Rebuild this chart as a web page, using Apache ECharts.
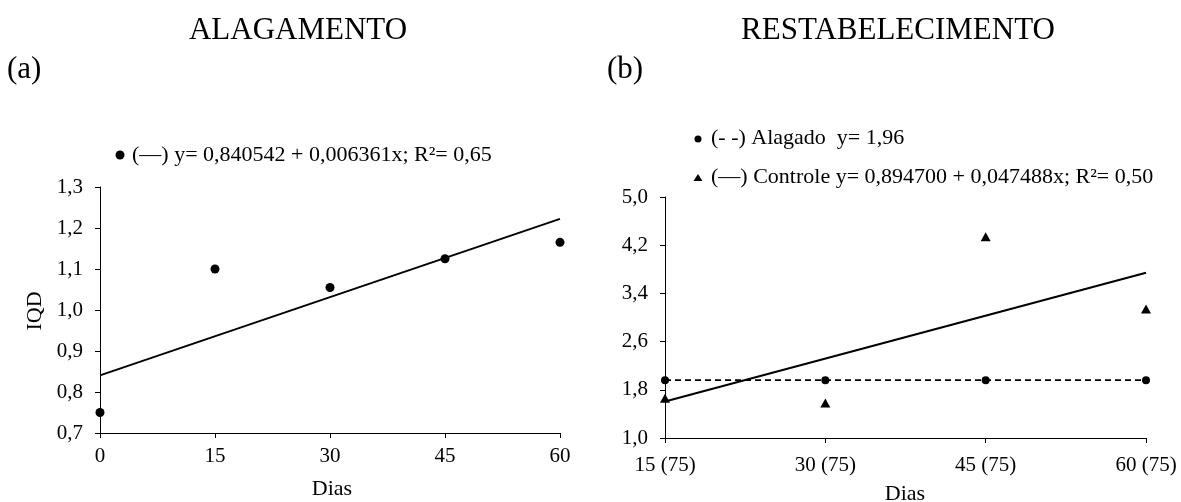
<!DOCTYPE html>
<html>
<head>
<meta charset="utf-8">
<script src="https://cdn.jsdelivr.net/npm/echarts@6/dist/echarts.min.js"></script>
<style>
  html, body { margin: 0; padding: 0; background: #fff; }
  #chart { width: 1181px; height: 502px; }
</style>
</head>
<body>
<div id="chart"></div>
<script>
// (a) Alagamento: IQD by day
const diasA = [0, 15, 30, 45, 60];
const iqdA = [0.75, 1.10, 1.055, 1.125, 1.165];
// fitted line y = 0,840542 + 0,006361x at the axis ends
const ajusteDiasA = [0, 60];
const ajusteA = [0.8405, 1.2222];

// (b) Restabelecimento
const diasB = [15, 30, 45, 60];
const alagadoB = [1.96, 1.96, 1.96, 1.96];
const controleB = [1.66, 1.58, 4.34, 3.14];
// fitted Controle line y = 0,894700 + 0,047488x at the axis ends
const ajusteDiasB = [15, 60];
const ajusteB = [1.607, 3.744];

const ticksA = { min: 0.7, max: 1.3, interval: 0.1 };
const ticksB = { min: 1.0, max: 5.0, interval: 0.8 };

const FONT = 'Liberation Serif';
const pairs = (xs, ys) => xs.map((x, i) => [x, ys[i]]);
const virgula = v => Number(v).toFixed(1).replace('.', ',');

const axisLine = { show: true, lineStyle: { color: '#000', width: 1 } };
const axisTick = { show: true, inside: false, length: 5, lineStyle: { color: '#000' } };
const label = (extra) => Object.assign({ color: '#000', fontFamily: FONT, fontSize: 21 }, extra);
const marker = { color: '#000', opacity: 1 };

const chart = echarts.init(document.getElementById('chart'), null, { renderer: 'canvas' });

chart.setOption({
  backgroundColor: '#fff',
  animation: false,
  grid: [
    { left: 100, top: 187, width: 460, height: 246 },
    { left: 665, top: 197, width: 481, height: 241 }
  ],
  xAxis: [
    {
      type: 'value', gridIndex: 0, min: 0, max: 60, interval: 15,
      axisLine, axisTick, splitLine: { show: false },
      axisLabel: label({ margin: 13 })
    },
    {
      type: 'value', gridIndex: 1, min: 15, max: 60, interval: 15,
      axisLine, axisTick, splitLine: { show: false },
      axisLabel: label({ margin: 17, formatter: v => v + ' (75)' })
    }
  ],
  yAxis: [
    {
      type: 'value', gridIndex: 0, min: ticksA.min, max: ticksA.max, interval: ticksA.interval,
      axisLine, axisTick, splitLine: { show: false },
      axisLabel: label({ margin: 17, formatter: virgula })
    },
    {
      type: 'value', gridIndex: 1, min: ticksB.min, max: ticksB.max, interval: ticksB.interval,
      axisLine, axisTick, splitLine: { show: false },
      axisLabel: label({ margin: 17, formatter: virgula })
    }
  ],
  series: [
    {
      type: 'line', xAxisIndex: 0, yAxisIndex: 0,
      data: pairs(ajusteDiasA, ajusteA), showSymbol: false, silent: true,
      lineStyle: { color: '#000', width: 2 }, z: 2
    },
    {
      type: 'scatter', xAxisIndex: 0, yAxisIndex: 0, clip: false,
      data: pairs(diasA, iqdA), symbol: 'circle', symbolSize: 9,
      itemStyle: marker, z: 3
    },
    {
      type: 'line', xAxisIndex: 1, yAxisIndex: 1,
      data: pairs(diasB, alagadoB), showSymbol: false, silent: true,
      lineStyle: { color: '#000', width: 1.6, type: [6, 4] }, z: 2
    },
    {
      type: 'scatter', xAxisIndex: 1, yAxisIndex: 1, clip: false,
      data: pairs(diasB, alagadoB), symbol: 'circle', symbolSize: 8,
      itemStyle: marker, z: 3
    },
    {
      type: 'line', xAxisIndex: 1, yAxisIndex: 1,
      data: pairs(ajusteDiasB, ajusteB), showSymbol: false, silent: true,
      lineStyle: { color: '#000', width: 2 }, z: 2
    },
    {
      type: 'scatter', xAxisIndex: 1, yAxisIndex: 1, clip: false,
      data: pairs(diasB, controleB), symbol: 'triangle', symbolSize: [10, 9],
      itemStyle: marker, z: 3
    }
  ],
  graphic: [
    { type: 'text', x: 298, y: 31, style: { text: 'ALAGAMENTO', font: '31px ' + FONT, fill: '#000', textAlign: 'center', textVerticalAlign: 'middle' } },
    { type: 'text', x: 7, y: 70, style: { text: '(a)', font: '31px ' + FONT, fill: '#000', textVerticalAlign: 'middle' } },
    { type: 'text', x: 898, y: 31, style: { text: 'RESTABELECIMENTO', font: '31px ' + FONT, fill: '#000', textAlign: 'center', textVerticalAlign: 'middle' } },
    { type: 'text', x: 607, y: 70, style: { text: '(b)', font: '31px ' + FONT, fill: '#000', textVerticalAlign: 'middle' } },

    // legend (a)
    { type: 'circle', shape: { cx: 120, cy: 155, r: 4.5 }, style: { fill: '#000' } },
    { type: 'text', x: 132, y: 155, style: { text: '(\u2014) y= 0,840542 + 0,006361x; R\u00b2= 0,65', font: '22px ' + FONT, fill: '#000', textVerticalAlign: 'middle' } },

    // legend (b)
    { type: 'circle', shape: { cx: 698, cy: 139, r: 3.5 }, style: { fill: '#000' } },
    { type: 'text', x: 711, y: 138, style: { text: '(- -) Alagado  y= 1,96', font: '22px ' + FONT, fill: '#000', textVerticalAlign: 'middle' } },
    { type: 'polygon', shape: { points: [[698, 174], [702.5, 181], [693.5, 181]] }, style: { fill: '#000' } },
    { type: 'text', x: 711, y: 177, style: { text: '(\u2014) Controle y= 0,894700 + 0,047488x; R\u00b2= 0,50', font: '22px ' + FONT, fill: '#000', textVerticalAlign: 'middle' } },

    // axis names
    { type: 'text', x: 35, y: 311, rotation: Math.PI / 2, style: { text: 'IQD', font: '22px ' + FONT, fill: '#000', textAlign: 'center', textVerticalAlign: 'middle' } },
    { type: 'text', x: 332, y: 489, style: { text: 'Dias', font: '22px ' + FONT, fill: '#000', textAlign: 'center', textVerticalAlign: 'middle' } },
    { type: 'text', x: 905, y: 494, style: { text: 'Dias', font: '22px ' + FONT, fill: '#000', textAlign: 'center', textVerticalAlign: 'middle' } }
  ]
});
</script>
</body>
</html>
